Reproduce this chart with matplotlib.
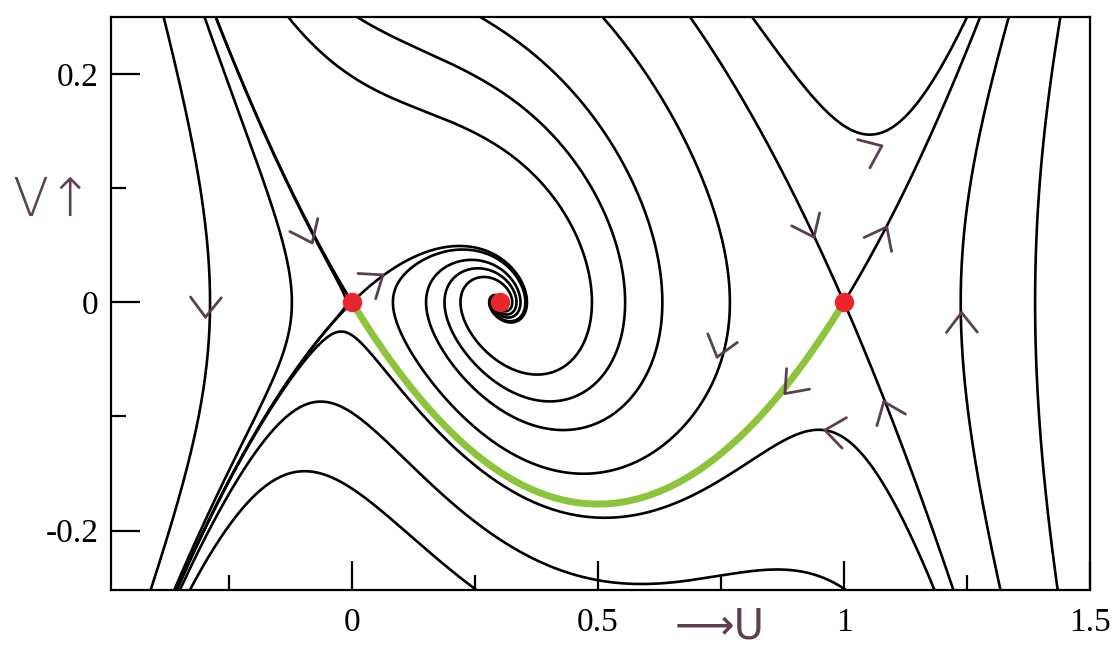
import numpy as np
import matplotlib.pyplot as plt

# travelling-wave ODE for the bistable equation: u' = v, v' = -c v - u(u-a)(1-u)
A = 0.3
C = (1 - 2 * A) / np.sqrt(2)

# fixed points
fixed_u = [0.0, A, 1.0]
fixed_v = [0.0, 0.0, 0.0]

# seed points of the drawn trajectories
top_seed_u = [-0.383, -0.300, -0.130, 0.010, 0.26, 0.509, 0.813, 1.335, 1.440]
top_seed_v = 0.25
inner_seed_u = [-0.012, -0.065, -0.10, 0.96]
inner_seed_v = [0.0, -0.087, -0.148, -0.112]

# hand-drawn direction marks
mark_u = [-0.298, -0.081, 0.063, 1.077, 0.939, 1.087, 1.239, 0.742, 0.880, 0.961, 1.081]
mark_v = [-0.013, 0.052, 0.024, 0.137, 0.057, 0.066, -0.009, -0.048, -0.080, -0.112, -0.087]

xticks_major = [0, 0.5, 1, 1.5]
xticks_labels = ['0', '0.5', '1', '1.5']
xticks_minor = [-0.25, 0.25, 0.75, 1.25]
yticks_major = [-0.2, 0, 0.2]
yticks_labels = ['-0.2', '0', '0.2']
yticks_minor = [-0.1, 0.1]

XLIM = (-0.49, 1.5)
YLIM = (-0.252, 0.25)

INK = '#5c3f52'


def field(u, v):
    return v, -C * v - u * (u - A) * (1 - u)


def trace(u, v, sign, dt=0.01, n_max=7000, ignore=None):
    us, vs = [u], [v]
    h = sign * dt
    for _ in range(n_max):
        k1u, k1v = field(u, v)
        k2u, k2v = field(u + h / 2 * k1u, v + h / 2 * k1v)
        k3u, k3v = field(u + h / 2 * k2u, v + h / 2 * k2v)
        k4u, k4v = field(u + h * k3u, v + h * k3v)
        u += h / 6 * (k1u + 2 * k2u + 2 * k3u + k4u)
        v += h / 6 * (k1v + 2 * k2v + 2 * k3v + k4v)
        us.append(u)
        vs.append(v)
        if u < -0.7 or u > 1.7 or abs(v) > 0.4:
            break
        if any(abs(u - fu) < 1e-3 and abs(v) < 1e-3
               for fu in fixed_u if fu != ignore):
            break
    return np.array(us), np.array(vs)


def full_orbit(u, v):
    bu, bv = trace(u, v, -1)
    fu, fv = trace(u, v, 1)
    return np.concatenate([bu[::-1], fu]), np.concatenate([bv[::-1], fv])


def saddle_dirs(u0):
    # linearisation: v' = -c v - f'(u0) (u - u0)
    fp = (u0 - A) * (1 - u0) + u0 * (1 - u0) - u0 * (u0 - A)
    lam = np.roots([1, C, fp])
    return sorted(lam.real)  # stable, unstable


fig = plt.figure(figsize=(11.13, 6.49), dpi=100)
ax = fig.add_axes([0.0997, 0.091, 0.8796, 0.883])
ax.set_xlim(*XLIM)
ax.set_ylim(*YLIM)

line_kw = dict(color='black', lw=1.9, solid_capstyle='round')

# ordinary trajectories
for su in top_seed_u:
    ou, ov = full_orbit(su, top_seed_v)
    ax.plot(ou, ov, **line_kw)
for su, sv in zip(inner_seed_u, inner_seed_v):
    ou, ov = full_orbit(su, sv)
    ax.plot(ou, ov, **line_kw)

# separatrices of the two saddles
eps = 1e-4
for u0 in (0.0, 1.0):
    lam_s, lam_u = saddle_dirs(u0)
    for lam, sign in ((lam_s, -1), (lam_u, 1)):
        for side in (-1, 1):
            if u0 == 1.0 and lam == lam_u and side == -1:
                continue  # the connection to the origin is drawn in green
            ou, ov = trace(u0 + side * eps, side * eps * lam, sign, ignore=u0)
            ax.plot(ou, ov, **line_kw)

# heteroclinic connection from (1,0) to (0,0)
lam_s, lam_u = saddle_dirs(1.0)
hu, hv = trace(1.0 - eps, -eps * lam_u, 1, ignore=1.0)
ax.plot(hu, hv, color='#8cc43c', lw=5, solid_capstyle='round', zorder=3)

ax.plot(fixed_u, fixed_v, 'o', color='#e8262b', ms=14, mec='none', zorder=4)

# direction chevrons
fig.canvas.draw()
to_disp = ax.transData
to_data = ax.transData.inverted()
for mu, mv in zip(mark_u, mark_v):
    du, dv = field(mu, mv)
    n = np.hypot(du, dv)
    p0 = to_disp.transform((mu, mv))
    p1 = to_disp.transform((mu + 1e-3 * du / n, mv + 1e-3 * dv / n))
    d = (p1 - p0) / np.hypot(*(p1 - p0))
    for ang in (np.deg2rad(38), -np.deg2rad(38)):
        rot = np.array([d[0] * np.cos(ang) - d[1] * np.sin(ang),
                        d[0] * np.sin(ang) + d[1] * np.cos(ang)])
        wing = to_data.transform(p0 - 25 * rot)
        ax.plot([mu, wing[0]], [mv, wing[1]], color=INK, lw=2,
                solid_capstyle='round', zorder=5)

ax.set_xticks(xticks_major)
ax.set_xticklabels(xticks_labels)
ax.set_xticks(xticks_minor, minor=True)
ax.set_yticks(yticks_major)
ax.set_yticklabels(yticks_labels)
ax.set_yticks(yticks_minor, minor=True)
ax.tick_params(which='major', direction='in', length=21, width=1.6,
               labelsize=24, labelfontfamily='Liberation Serif')
ax.tick_params(axis='x', which='major', pad=13)
ax.tick_params(axis='y', which='major', pad=9)
ax.tick_params(which='minor', direction='in', length=11, width=1.6)
for sp in ax.spines.values():
    sp.set_linewidth(1.6)

fig.text(0.047, 0.69, 'V↑', fontsize=38, color=INK, ha='center', va='center',
         family='DejaVu Sans', fontweight='light')
fig.text(0.647, 0.002, '⟶U', fontsize=30, color=INK, ha='center', va='bottom',
         family=['DejaVu Sans'])

fig.savefig('out.png', dpi=100)
